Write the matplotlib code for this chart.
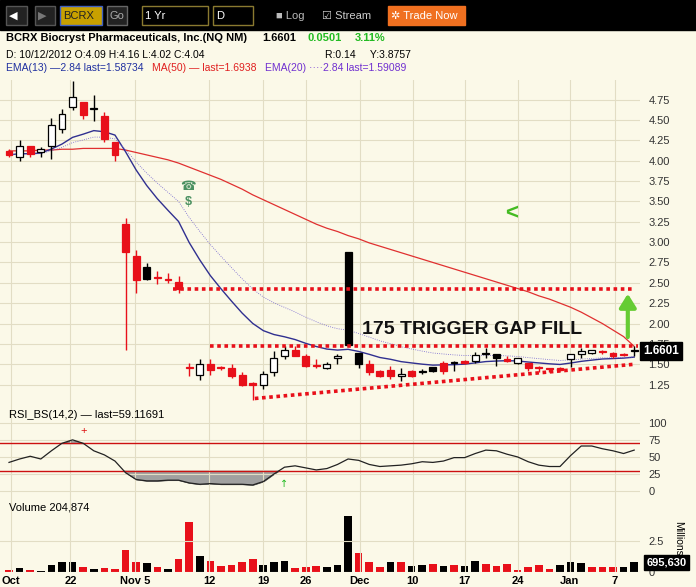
import matplotlib
matplotlib.use("Agg")
import matplotlib.pyplot as plt
import numpy as np
from matplotlib.patches import Rectangle

plt.rcParams['font.family'] = ['Liberation Sans', 'DejaVu Sans']

# ---------------- data ----------------
opens  = [4.12,4.05,4.18,4.10,4.18,4.39,4.66,4.72,4.65,4.55,4.23,
          3.22,2.83,2.70,2.56,2.54,2.51,
          1.46,1.37,1.50,1.47,1.46,1.37,1.27,1.25,1.40,1.60,1.67,1.60,1.49,1.45,1.58,
          2.88,
          1.64,1.50,1.42,1.35,1.38,1.35,1.41,1.47,1.42,1.53,1.51,1.54,1.64,1.63,1.54,1.58,1.52,1.45,1.44,1.43,1.57,1.62,1.67,1.65,1.64,1.63,1.66]
closes = [4.07,4.18,4.08,4.14,4.44,4.57,4.78,4.56,4.63,4.27,4.07,
          2.88,2.54,2.55,2.56,2.54,2.43,
          1.45,1.50,1.43,1.46,1.36,1.25,1.24,1.38,1.58,1.67,1.60,1.48,1.48,1.50,1.60,
          1.74,
          1.50,1.41,1.35,1.43,1.36,1.42,1.41,1.42,1.51,1.51,1.54,1.61,1.63,1.58,1.57,1.52,1.45,1.45,1.44,1.45,1.62,1.66,1.64,1.65,1.60,1.61,1.66]
highs  = [4.14,4.25,4.18,4.17,4.52,4.64,4.98,4.72,4.80,4.60,4.23,
          3.29,2.90,2.74,2.65,2.62,2.58,
          1.52,1.56,1.57,1.48,1.50,1.40,1.28,1.42,1.66,1.73,1.73,1.62,1.57,1.53,1.63,
          2.88,
          1.64,1.55,1.43,1.48,1.45,1.43,1.44,1.47,1.54,1.54,1.55,1.65,1.70,1.63,1.60,1.58,1.52,1.48,1.46,1.47,1.62,1.70,1.68,1.67,1.65,1.64,1.73]
lows   = [4.05,4.00,4.04,4.05,4.02,4.34,4.62,4.51,4.49,4.23,4.00,
          1.68,2.38,2.53,2.48,2.50,2.38,
          1.35,1.31,1.37,1.43,1.33,1.23,1.06,1.20,1.35,1.56,1.60,1.47,1.46,1.44,1.50,
          1.72,
          1.45,1.37,1.34,1.32,1.30,1.34,1.38,1.41,1.38,1.42,1.50,1.51,1.58,1.48,1.53,1.50,1.42,1.40,1.41,1.42,1.47,1.58,1.62,1.63,1.58,1.60,1.60]
ccode  = list("rwrwwwwrwrr" "rrkrrr" "rwrrrrrwwwrrrwwk" "k" "rrrwrwkrwrwwkrwrrrrwwwrrrkw")
ma50   = [4.12,4.12,4.12,4.13,4.13,4.14,4.14,4.15,4.15,4.15,4.15,
          4.13,4.10,4.07,4.04,4.01,3.97,3.92,3.87,3.82,3.77,3.71,3.65,3.58,3.52,3.46,3.40,3.34,3.28,3.22,3.17,3.13,
          3.08,3.04,2.99,2.95,2.91,2.87,2.83,2.79,2.75,2.71,2.67,2.63,2.59,2.55,2.51,2.47,2.43,2.39,2.34,2.30,2.25,2.20,2.14,2.07,2.00,1.92,1.84,1.72]
rsi    = [42,47,51,47,59,70,75,70,59,53,44,27,17,15,15,16,16,12,10,11,10,10,10,9,14,25,35,37,34,31,
          33,39,47,45,39,36,37,38,40,43,42,44,49,49,55,60,59,54,50,43,38,36,36,52,66,66,62,59,55,60]
volume = [0.13,0.35,0.18,0.10,0.55,0.78,0.86,0.43,0.25,0.35,0.25,1.77,0.86,0.73,0.43,0.25,1.10,4.10,1.30,0.93,
          0.50,0.55,0.78,1.10,0.55,0.86,0.93,0.35,0.43,0.50,0.43,0.55,4.60,1.56,0.78,0.43,0.78,0.78,0.50,0.55,
          0.63,0.50,0.55,0.50,0.93,0.63,0.50,0.63,0.18,0.43,0.55,0.25,0.55,0.86,0.73,0.43,0.43,0.43,0.43,0.78]
vcolor = list("rkrkkkkrkrrrrkrkrrkrrrrrkkkrrrkkkrrrkrkkrkrkkrrrrrrrkkkrrrkk")
tick_pos = [0.2,5.8,11.9,18.9,23.96,28,33.1,38.1,43,48,52.9,57.2]
tick_lab = ["Oct","22","Nov 5","12","19","26","Dec","10","17","24","Jan","7"]
price_ticks = [1.25,1.5,1.75,2.0,2.25,2.5,2.75,3.0,3.25,3.5,3.75,4.0,4.25,4.5,4.75]

def ema(v, n):
    a = 2/(n+1); out=[v[0]]
    for x in v[1:]:
        out.append(out[-1]+a*(x-out[-1]))
    return np.array(out)

n = len(closes)
idx = np.arange(n)
BG = "#FBF9E8"; GRID = "#E2DDC4"
W, H = 696, 587
fig = plt.figure(figsize=(W/100, H/100), dpi=100, facecolor=BG)

def box(x0, y0, x1, y1):
    return [x0/W, 1-y1/H, (x1-x0)/W, (y1-y0)/H]

XL = (-0.85, 59.55)

# header bar
fig.patches.append(Rectangle((0, 1-30/H), 1, 30/H, transform=fig.transFigure, color="black"))
def hdr(x0, x1, txt, fc="black", ec="#8a7a30", tc="white"):
    fig.patches.append(Rectangle((x0/W, 1-25/H), (x1-x0)/W, 19/H, transform=fig.transFigure, fc=fc, ec=ec, lw=1))
    fig.text((x0+3)/W, 1-16/H, txt, color=tc, fontsize=8, va="center")
hdr(6, 27, "◀", fc="#222", ec="#555")
hdr(35, 55, "▶", fc="#222", ec="#555", tc="#777")
hdr(60, 102, "BCRX", fc="#c8a000", ec="#4060c0", tc="#222")
hdr(107, 127, "Go", fc="#222", ec="#666", tc="#aaa")
hdr(142, 208, "1 Yr")
hdr(213, 253, "D")
fig.text(276/W, 1-16/H, "■ Log", color="#bbb", fontsize=8, va="center")
fig.text(322/W, 1-16/H, "☑ Stream", color="#ccc", fontsize=8, va="center")
hdr(388, 465, "✲ Trade Now", fc="#f07020", ec="#f07020", tc="white")

fig.text(6/W, 1-38/H, "BCRX Biocryst Pharmaceuticals, Inc.(NQ NM)", fontsize=8, fontweight="bold", va="center")
fig.text(262/W, 1-38/H, "1.6601", fontsize=8, fontweight="bold", va="center")
fig.text(308/W, 1-38/H, "0.0501", fontsize=8, fontweight="bold", color="#22bb22", va="center")
fig.text(355/W, 1-38/H, "3.11%", fontsize=8, fontweight="bold", color="#22bb22", va="center")
fig.text(6/W, 1-55/H, "D: 10/12/2012 O:4.09 H:4.16 L:4.02 C:4.04", fontsize=7.5, va="center")
fig.text(325/W, 1-55/H, "R:0.14     Y:3.8757", fontsize=7.5, va="center")
fig.text(6/W, 1-68/H, "EMA(13) —2.84 last=1.58734", fontsize=7.5, color="#2030a0", va="center")
fig.text(152/W, 1-68/H, "MA(50) — last=1.6938", fontsize=7.5, color="#e02020", va="center")
fig.text(265/W, 1-68/H, "EMA(20) ····2.84 last=1.59089", fontsize=7.5, color="#7030d0", va="center")

# ---------------- price ----------------
ax = fig.add_axes(box(0, 80, 640, 405), facecolor=BG)
ax.set_xlim(*XL)
ax.set_ylim(1.0, 4.99)
ax.set_yticks(price_ticks)
ax.set_xticks(tick_pos)
ax.grid(True, color=GRID, lw=0.8)
ax.tick_params(axis="x", length=0, labelbottom=False)
ax.yaxis.tick_right()
ax.tick_params(axis="y", length=0, labelsize=8, pad=6, colors="#333")
ax.set_yticklabels([f"{t:.2f}" for t in price_ticks])
for s in ax.spines.values(): s.set_visible(False)

ax.plot(idx, ma50, color="#e03030", lw=0.9, zorder=2)
ax.plot(idx, ema(closes, 13), color="#303090", lw=1.0, zorder=2)
ax.plot(idx, ema(closes, 20), color="#7060d0", lw=0.6, ls=":", zorder=2)

cw = 0.65
for i in range(n):
    o, c, h, l, cc = opens[i], closes[i], highs[i], lows[i], ccode[i]
    col = "#e8101a" if cc == "r" else "black"
    ax.vlines(i, l, h, color=col, lw=1, zorder=3)
    lo, hi = min(o, c), max(o, c)
    hgt = max(hi-lo, 0.012)
    fc = "white" if cc == "w" else col
    ax.add_patch(Rectangle((i-cw/2, lo), cw, hgt, fc=fc, ec=col, lw=0.9, zorder=4))

# annotations
ax.plot([15.5, 58.8], [2.42, 2.42], color="#e8101a", ls=(0, (1, 1)), lw=2.6, zorder=5)
ax.plot([19.0, 59.4], [1.72, 1.72], color="#e8101a", ls=(0, (1, 1)), lw=2.6, zorder=5)
ax.plot([23.2, 59.0], [1.08, 1.50], color="#e8101a", ls=(0, (1, 1)), lw=2.6, zorder=5)
ax.text(33.3, 1.93, "175 TRIGGER GAP FILL", fontsize=14, fontweight="heavy", color="#111",
        va="center", ha="left", zorder=6)
ax.annotate("", xy=(58.4, 2.40), xytext=(58.4, 1.80),
            arrowprops=dict(arrowstyle="-|>,head_width=0.5,head_length=0.8", color="#66cc33", lw=3), zorder=6)
ax.text(47.4, 3.35, "<", fontsize=16, fontweight="bold", color="#44bb22", ha="center", va="center")
ax.text(16.9, 3.68, "☎", fontsize=9, color="#4a9060", ha="center", va="center", family="DejaVu Sans")
ax.text(16.9, 3.49, "$", fontsize=9, fontweight="bold", color="#4a9060", ha="center", va="center")
ax.text(1.005, 1.66, "1.6601", transform=ax.get_yaxis_transform(), fontsize=8.5, fontweight="bold",
        color="white", va="center", ha="left", bbox=dict(fc="black", ec="black", pad=2), zorder=7)

# ---------------- RSI ----------------
ar = fig.add_axes(box(0, 405, 640, 500), facecolor=BG)
ar.set_xlim(*XL)
ar.set_ylim(-13, 126)
ar.set_yticks([0, 25, 50, 75, 100])
ar.set_xticks(tick_pos)
ar.grid(True, color=GRID, lw=0.8)
ar.tick_params(axis="x", length=0, labelbottom=False)
ar.yaxis.tick_right()
ar.tick_params(axis="y", length=0, labelsize=8, pad=6, colors="#333")
for s in ar.spines.values(): s.set_visible(False)
ar.axhline(70, color="#cc1010", lw=1)
ar.axhline(30, color="#cc1010", lw=1)
r = np.array(rsi, float)
ar.fill_between(idx, r, 30, where=r < 30, interpolate=True, color="#a0a0a0", ec="#555", lw=0.5)
ar.fill_between(idx, r, 70, where=r > 70, interpolate=True, color="#a0a0a0", ec="#555", lw=0.5)
ar.plot(idx, r, color="#222", lw=0.9)
ar.text(7, 88, "+", color="#dd1010", fontsize=8, ha="center", va="center")
ar.text(26, 11, "↑", color="#22bb22", fontsize=7, ha="center", va="center", family="DejaVu Sans")
ar.text(0.0, 112, "RSI_BS(14,2) — last=59.11691", fontsize=8, ha="left", va="center")

# ---------------- volume ----------------
av = fig.add_axes(box(0, 500, 640, 572), facecolor=BG)
av.set_xlim(*XL)
av.set_ylim(0, 5.9)
av.set_yticks([0, 2.5])
av.set_xticks(tick_pos)
av.set_xticklabels(tick_lab, fontsize=8, fontweight="bold")
av.grid(True, color=GRID, lw=0.8)
av.tick_params(axis="x", length=0, pad=3)
av.yaxis.tick_right()
av.tick_params(axis="y", length=0, labelsize=8, pad=6, colors="#333")
av.set_yticklabels(["0", "2.5"])
for s in av.spines.values(): s.set_visible(False)
av.bar(idx, volume, width=0.72, color=["#e8101a" if c == "r" else "black" for c in vcolor])
av.text(0.0, 5.3, "Volume 204,874", fontsize=8, ha="left", va="center")
av.text(1.01, 0.78, "695,630", transform=av.get_yaxis_transform(), fontsize=8, fontweight="bold",
        color="white", va="center", ha="left", bbox=dict(fc="black", ec="black", pad=2), zorder=7)
fig.text(678/W, 1-538/H, "Millions", rotation=270, fontsize=7.5, ha="center", va="center")

fig.savefig("out.png", dpi=100, facecolor=BG)
